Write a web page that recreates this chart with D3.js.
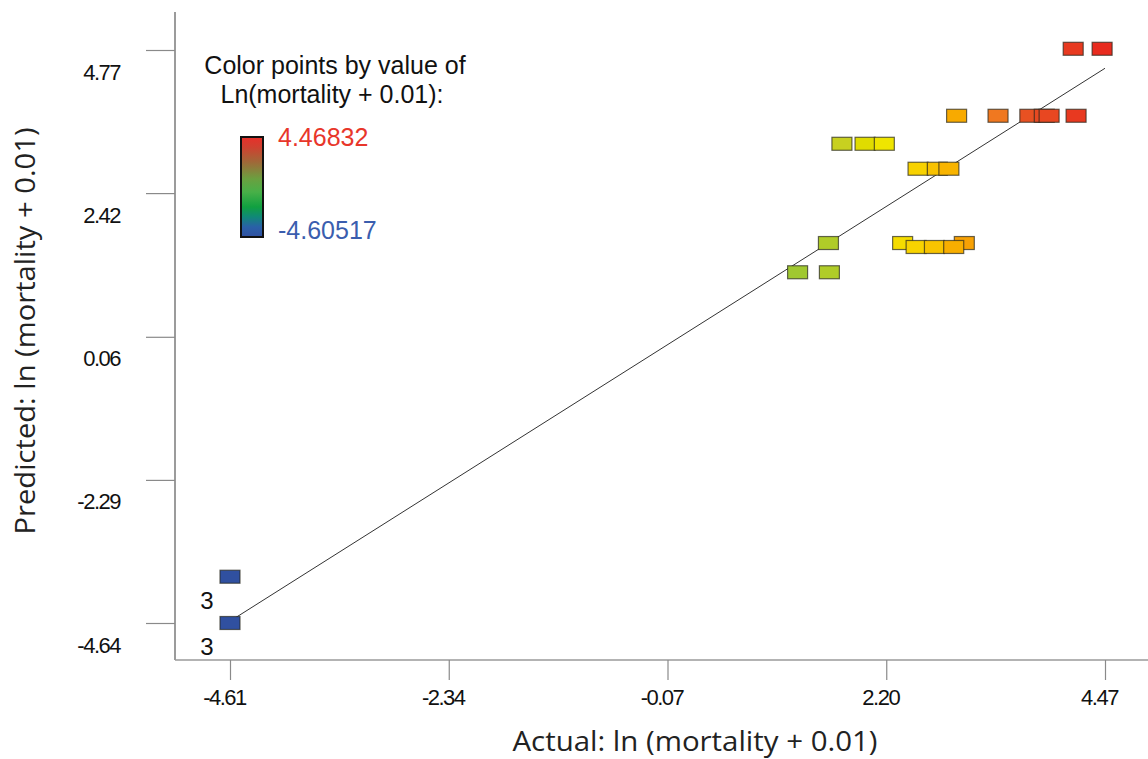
<!DOCTYPE html>
<html>
<head>
<meta charset="utf-8">
<script src="https://cdn.jsdelivr.net/npm/d3@7"></script>
<style>
  html, body { margin: 0; padding: 0; background: #fff; }
  svg { display: block; }
</style>
</head>
<body>
<svg id="chart" width="1148" height="759"></svg>
<script>
// ---- data ----
const actual    = [-4.61, -4.61, 1.28, 1.61, 1.60, 2.37, 3.01, 2.51, 2.70, 2.90, 2.53, 2.73, 2.85, 1.74, 1.98, 2.18, 2.93, 3.36, 3.69, 3.84, 3.89, 4.17, 4.14, 4.44];
const predicted = [-3.88, -4.64, 1.12, 1.12, 1.60, 1.60, 1.60, 1.535, 1.535, 1.535, 2.82, 2.82, 2.82, 3.23, 3.23, 3.23, 3.69, 3.69, 3.69, 3.69, 3.69, 3.69, 4.79, 4.79];
const xTicks = [-4.61, -2.34, -0.07, 2.20, 4.47];
const xTickLabels = ["-4.61", "-2.34", "-0.07", "2.20", "4.47"];
const yTicks = [4.77, 2.42, 0.06, -2.29, -4.64];
const yTickLabels = ["4.77", "2.42", "0.06", "-2.29", "-4.64"];
const fitLine = [-4.61, 4.47];           // predicted = actual
const countLabels = [{a: -4.61, p: -3.88, n: "3"}, {a: -4.61, p: -4.64, n: "3"}];
const colorMin = -4.60517, colorMax = 4.46832;
const colorStops = [-4.61, 1.28, 1.61, 1.74, 1.98, 2.2, 2.5, 2.75, 2.95, 3.36, 3.7, 4.47];
const colorRange = ["#3050a0", "#a0c830", "#b0cc28", "#c8d020", "#e0dc00", "#f0e600", "#f8d400", "#f8c000", "#f8a800", "#f07820", "#e85022", "#e82a1e"];

// ---- layout ----
const W = 1148, H = 759;
const axisX = 175, axisY = 660;
const svg = d3.select("#chart");

const x = d3.scaleLinear().domain([-4.61, 4.47]).range([230, 1105]);
const y = d3.scaleLinear().domain([-4.64, 4.77]).range([623, 50]);
const color = d3.scaleLinear().domain(colorStops).range(colorRange).clamp(true);

const tickFont = "'Liberation Sans', Arial, sans-serif";

// axis lines
svg.append("line").attr("x1", axisX).attr("x2", axisX).attr("y1", 12).attr("y2", axisY)
  .attr("stroke", "#7a7a7a").attr("stroke-width", 1.5);
svg.append("line").attr("x1", axisX).attr("x2", W).attr("y1", axisY).attr("y2", axisY)
  .attr("stroke", "#9a9a9a").attr("stroke-width", 1.5);

// x axis
const gx = svg.append("g").attr("transform", `translate(0,${axisY})`)
  .call(d3.axisBottom(x).tickValues(xTicks).tickSize(20)
    .tickFormat((d, i) => xTickLabels[i]));
gx.select(".domain").remove();
gx.selectAll(".tick line").attr("stroke", "#8a8a8a").attr("stroke-width", 1.2);
gx.selectAll(".tick text").attr("x", -6).attr("y", 45).attr("dy", 0)
  .attr("font-family", tickFont).attr("font-size", 22).attr("letter-spacing", -1.5)
  .attr("fill", "#111");

// y axis
const gy = svg.append("g").attr("transform", `translate(${axisX},0)`)
  .call(d3.axisLeft(y).tickValues(yTicks).tickSize(29)
    .tickFormat((d, i) => yTickLabels[i]));
gy.select(".domain").remove();
gy.selectAll(".tick line").attr("stroke", "#8a8a8a").attr("stroke-width", 1.2);
gy.selectAll(".tick text").attr("x", -55).attr("y", 29).attr("dy", 0)
  .attr("text-anchor", "end")
  .attr("font-family", tickFont).attr("font-size", 22).attr("letter-spacing", -1.5)
  .attr("fill", "#111");

// axis titles
svg.append("text").attr("x", 695).attr("y", 751).attr("text-anchor", "middle")
  .attr("font-family", "'Open Sans', sans-serif").attr("font-size", 27)
  .attr("textLength", 365).attr("lengthAdjust", "spacingAndGlyphs")
  .attr("fill", "#222").text("Actual: ln (mortality + 0.01)");
svg.append("text").attr("transform", "translate(35,331) rotate(-90)").attr("text-anchor", "middle")
  .attr("font-family", "'Open Sans', sans-serif").attr("font-size", 27)
  .attr("textLength", 407).attr("lengthAdjust", "spacingAndGlyphs")
  .attr("fill", "#222").text("Predicted: ln (mortality + 0.01)");

// fit line
svg.append("line")
  .attr("x1", x(fitLine[0])).attr("y1", y(fitLine[0]))
  .attr("x2", x(fitLine[1])).attr("y2", y(fitLine[1]))
  .attr("stroke", "#333").attr("stroke-width", 1);

// points
const rw = 20, rh = 13;
svg.append("g").selectAll("rect").data(actual.map((a, i) => ({a, p: predicted[i]})))
  .join("rect")
  .attr("x", d => x(d.a) - rw / 2).attr("y", d => y(d.p) - rh / 2)
  .attr("width", rw).attr("height", rh)
  .attr("fill", d => color(d.a))
  .attr("stroke", "rgba(40,40,30,0.7)").attr("stroke-width", 1.2);

// count labels
svg.append("g").selectAll("text").data(countLabels).join("text")
  .attr("x", d => x(d.a) - 23).attr("y", d => y(d.p) + 32)
  .attr("text-anchor", "middle")
  .attr("font-family", "'Liberation Sans', Arial, sans-serif").attr("font-size", 24)
  .attr("fill", "#111").text(d => d.n);

// legend
const lg = svg.append("g");
lg.append("text").attr("x", 335).attr("y", 74).attr("text-anchor", "middle")
  .attr("font-family", "'Liberation Sans', Arial, sans-serif").attr("font-size", 25)
  .attr("fill", "#111").text("Color points by value of");
lg.append("text").attr("x", 332).attr("y", 103).attr("text-anchor", "middle")
  .attr("font-family", "'Liberation Sans', Arial, sans-serif").attr("font-size", 25)
  .attr("fill", "#111").text("Ln(mortality + 0.01):");

const defs = svg.append("defs");
const grad = defs.append("linearGradient").attr("id", "lgGrad")
  .attr("x1", 0).attr("x2", 0).attr("y1", 0).attr("y2", 1);
const legendStops = [
  [0, "#e8302a"], [0.1, "#d04030"], [0.25, "#a06838"], [0.42, "#6aa040"],
  [0.55, "#48b048"], [0.7, "#10a040"], [0.8, "#108878"], [0.9, "#2a60a8"], [1, "#3050a0"]
];
legendStops.forEach(s => grad.append("stop").attr("offset", s[0]).attr("stop-color", s[1]));
lg.append("rect").attr("x", 241).attr("y", 137).attr("width", 22).attr("height", 100)
  .attr("fill", "url(#lgGrad)").attr("stroke", "#111").attr("stroke-width", 2);
lg.append("text").attr("x", 278).attr("y", 146)
  .attr("font-family", "'Liberation Sans', Arial, sans-serif").attr("font-size", 25)
  .attr("fill", "#e8362a").text(String(colorMax));
lg.append("text").attr("x", 278).attr("y", 239)
  .attr("font-family", "'Liberation Sans', Arial, sans-serif").attr("font-size", 25)
  .attr("fill", "#3a5dae").text(String(colorMin));
</script>
</body>
</html>
